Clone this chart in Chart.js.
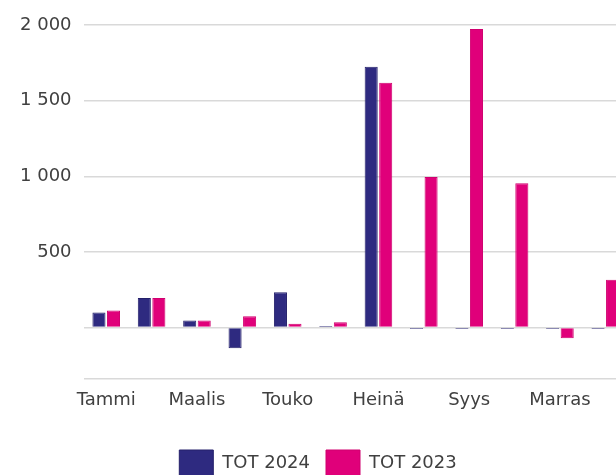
<!DOCTYPE html>
<html>
<head>
<meta charset="utf-8">
<script src="https://cdn.jsdelivr.net/npm/chart.js@4"></script>
<style>
    html, body { margin: 0; padding: 0; background: #fff; overflow: hidden; }
    #wrap { width: 640px; height: 487px; }
</style>
</head>
<body>
<div id="wrap"><canvas id="chart"></canvas></div>
<script>
// kuukaudet
const months = ['Tammi', 'Helmi', 'Maalis', 'Huhti', 'Touko', 'Kesä',
                'Heinä', 'Elo', 'Syys', 'Loka', 'Marras', 'Joulu'];

// sarjat
const tot2024 = [100, 195, 46, -137, 234, 10, 1724, -10, -10, -10, -10, -10];
const tot2023 = [113, 195, 46, 75, 25, 35, 1618, 995, 1973, 954, -70, 316];

// y-akselin rajat ja viivat
const yMin = -340;
const yMax = 2000;
const yTicks = [-340, 0, 500, 1000, 1500, 2000];

const FONT = { family: 'DejaVu Sans', size: 18 };
const TEXT = '#404040';

function fmt(v) {
    return String(v).replace(/\B(?=(\d{3})+(?!\d))/g, ' ');
}

const ctx = document.getElementById('chart').getContext('2d');
new Chart(ctx, {
    type: 'bar',
    data: {
        labels: months,
        datasets: [
            {
                label: 'TOT 2024',
                data: tot2024,
                backgroundColor: '#2e2a80',
                borderColor: '#24206a',
                borderWidth: 1,
                categoryPercentage: 0.64,
                barPercentage: 0.9
            },
            {
                label: 'TOT 2023',
                data: tot2023,
                backgroundColor: '#e0007a',
                borderColor: '#d0006f',
                borderWidth: 1,
                categoryPercentage: 0.64,
                barPercentage: 0.9
            }
        ]
    },
    options: {
        responsive: true,
        maintainAspectRatio: false,
        animation: false,
        layout: { padding: { top: 25, left: 8, right: 12, bottom: 0 } },
        plugins: {
            tooltip: { enabled: false },
            legend: {
                position: 'bottom',
                labels: {
                    boxWidth: 34,
                    boxHeight: 27,
                    padding: 16,
                    color: TEXT,
                    font: FONT
                }
            }
        },
        scales: {
            x: {
                grid: { display: false },
                border: { display: false },
                afterFit: function(scale) {
                    scale.height = 55;
                },
                ticks: {
                    autoSkip: false,
                    maxRotation: 0,
                    color: TEXT,
                    font: FONT,
                    padding: 3,
                    callback: function(value, index) {
                        return index % 2 === 0 ? months[index] : '';
                    }
                }
            },
            y: {
                min: yMin,
                max: yMax,
                border: { display: false },
                grid: { color: '#d9d9d9', lineWidth: 1.5, drawTicks: false },
                afterBuildTicks: function(scale) {
                    scale.ticks = yTicks.map(v => ({ value: v }));
                },
                ticks: {
                    padding: 12,
                    color: TEXT,
                    font: FONT,
                    callback: function(value) {
                        return value > 0 ? fmt(value) : '';
                    }
                }
            }
        }
    }
});
</script>
</body>
</html>
